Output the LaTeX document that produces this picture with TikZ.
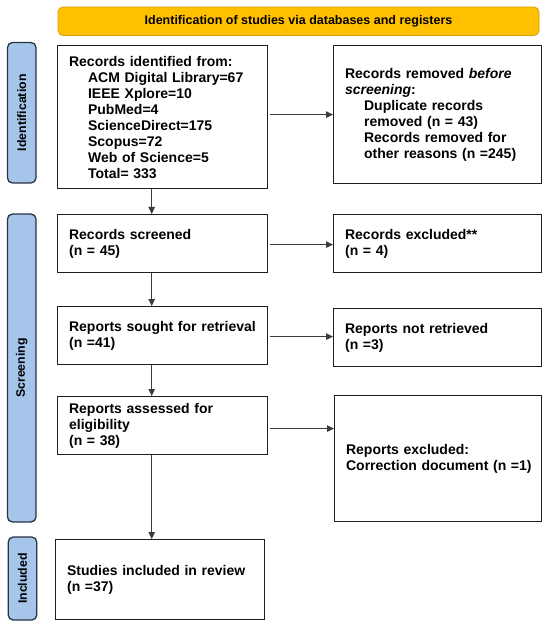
\documentclass[tikz,border=0pt]{standalone}
\usepackage{fontspec}
\setmainfont{Liberation Sans}
\usetikzlibrary{arrows.meta}
\definecolor{bannerfill}{RGB}{255,192,0}
\definecolor{bannerdraw}{RGB}{214,160,20}
\definecolor{sidefill}{RGB}{165,198,234}
\definecolor{sidedraw}{RGB}{40,52,68}
\definecolor{boxdraw}{RGB}{30,30,30}
\definecolor{arrowcol}{RGB}{60,60,60}
\begin{document}
\begin{tikzpicture}[x=1pt,y=-1pt,
  box/.style={draw=boxdraw, line width=1.2pt, anchor=north west, inner xsep=11.5pt, inner ysep=0pt, align=left, font=\bfseries\fontsize{14}{16}\selectfont},
  side/.style={draw=sidedraw, fill=sidefill, line width=1.3pt, rounded corners=5pt, inner sep=0pt, rotate=90, font=\bfseries\fontsize{12.3}{14}\selectfont},
  banner/.style={draw=bannerdraw, fill=bannerfill, line width=0.8pt, rounded corners=5pt, inner sep=0pt, font=\bfseries\fontsize{12.5}{14}\selectfont},
  arr/.style={draw=arrowcol, line width=0.9pt, -{Triangle[length=7pt,width=6.5pt]}}
]
\useasboundingbox (0,0) rectangle (550,628);
\fill[white] (0,0) rectangle (550,628);

\node[banner, minimum width=481pt, minimum height=28.5pt] (ban) at (298.5,21.25) {Identification of studies via databases and registers};

\node[side, minimum width=140.5pt, minimum height=28.5pt] (sid) at (21.75,112.75) {Identification};
\node[side, minimum width=308pt, minimum height=28.5pt] (sscr) at (21.75,368) {Screening};
\node[side, minimum width=83pt, minimum height=28.5pt] (sinc) at (22.5,578.5) {Included};

\node[box, text width=187pt, minimum height=143pt] (box1) at (57,45) {Records identified from:\\
\hspace*{19pt}ACM Digital Library=67\\
\hspace*{19pt}IEEE Xplore=10\\
\hspace*{19pt}PubMed=4\\
\hspace*{19pt}ScienceDirect=175\\
\hspace*{19pt}Scopus=72\\
\hspace*{19pt}Web of Science=5\\
\hspace*{19pt}Total= 333};

\node[box, text width=185pt, minimum height=138pt] (removed) at (333,45) {Records removed \textit{before}\\
\textit{screening}:\\
\hspace*{19pt}Duplicate records\\
\hspace*{19pt}removed (n = 43)\\
\hspace*{19pt}Records removed for\\
\hspace*{19pt}other reasons (n =245)};

\node[box, text width=187pt, minimum height=58pt] (screened) at (57,214) {Records screened\\(n = 45)};
\node[box, text width=185pt, minimum height=58pt] (excluded) at (333,214) {Records excluded**\\(n = 4)};
\node[box, text width=187pt, minimum height=58pt] (sought) at (57,306) {Reports sought for retrieval\\(n =41)};
\node[box, text width=185pt, minimum height=58pt] (notret) at (333,308) {Reports not retrieved\\(n =3)};
\node[box, text width=187pt, minimum height=58pt] (assessed) at (57,396) {Reports assessed for\\eligibility\\(n = 38)};
\node[box, text width=184pt, minimum height=126pt] (repexcl) at (334,395) {Reports excluded:\\\mbox{Correction document (n =1)}};
\node[box, text width=186pt, minimum height=80pt] (studies) at (55,539) {Studies included in review\\(n =37)};

\coordinate (ax) at (151.7,0);

\draw[arr] (box1.south -| ax) -- (screened.north -| ax);
\draw[arr] (screened.south -| ax) -- (sought.north -| ax);
\draw[arr] (sought.south -| ax) -- (assessed.north -| ax);
\draw[arr] (assessed.south -| ax) -- (studies.north -| ax);

\draw[arr, shorten <=2pt] (box1.east |- removed.west) -- (removed.west);
\draw[arr, shorten <=2pt] ([yshift=-1pt]screened.east) -- ([yshift=-1pt]screened.east -| excluded.west);
\draw[arr, shorten <=2pt] ([yshift=-1pt]sought.east) -- ([yshift=-1pt]sought.east -| notret.west);
\draw[arr, shorten <=2pt] ([yshift=-3pt]assessed.east) -- ([yshift=-3pt]assessed.east -| repexcl.west);
\end{tikzpicture}
\end{document}
